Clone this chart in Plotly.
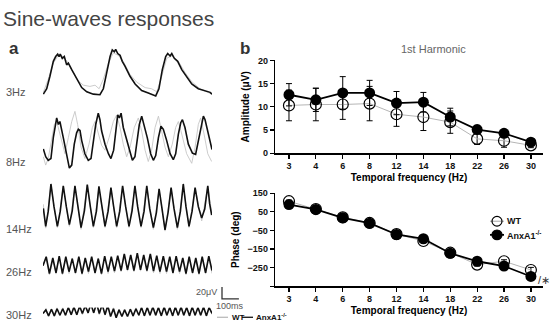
import plotly.graph_objects as go

W, H = 550, 331
FONT = "Liberation Sans, Arial, sans-serif"

# ---------------- Panel a: raw responses (time in ms, amplitude in uV) ----------------
t3_anx = [2,22,41,61,75,87,95,102,114,126,140,150,170,200,229,259,298,337,357,377,
          397,410,422,430,442,456,469,485,515,545,584,623,667,686,706,726,738,752,762,777,
          797,821,851,880,919,959,989,1000]
v3_anx = [5,14,35,60,68,72,68,72,65,68,54,57,46,30,16,9,5,4,14,41,
          68,79,76,80,73,70,60,52,35,22,11,7,2,14,46,68,73,69,73,65,
          60,46,33,22,14,11,8,5]
t3_wt = [2,31,61,91,120,150,179,209,239,278,308,332,357,387,416,446,475,515,555,604,
         643,673,703,732,762,801,841,880,929,969,999]
v3_wt = [8,30,57,70,68,57,41,27,20,18,20,14,30,57,74,70,60,38,25,16,
         14,9,35,65,69,60,41,26,14,9,5]

t8_anx = [2,16,31,47,61,71,81,91,100,120,140,156,170,185,199,209,219,229,248,268,
          284,298,312,327,337,347,367,387,402,418,430,442,452,462,475,495,515,529,544,558,
          570,584,598,617,637,653,667,683,698,712,732,752,771,785,801,815,825,840,860,884,
          903,919,935,949,959,975,988,1000]
v8_anx = [35,22,16,19,54,73,87,76,81,54,22,3,8,43,62,68,66,49,27,16,
          19,49,76,95,84,65,43,27,19,33,65,92,87,95,71,49,27,16,22,54,
          76,90,76,54,27,16,24,54,73,68,49,27,17,27,60,79,84,71,43,28,
          26,49,76,90,84,65,49,34]
t8_wt = [2,16,31,51,67,81,100,130,150,170,189,205,225,248,272,292,308,327,347,367,
         391,416,436,456,475,495,515,540,564,584,604,623,643,663,683,702,722,742,765,785,
         801,821,850,880,900,919,933,953,975,998]
v8_wt = [22,8,19,54,76,81,60,27,54,81,98,76,38,19,43,71,81,60,41,33,
         54,81,92,71,43,22,38,71,87,65,33,14,33,71,90,65,38,22,43,71,
         81,60,27,11,38,76,87,60,27,14]

t14_anx = [2,16,31,47,65,85,102,120,138,156,173,189,207,225,245,262,280,298,316,331,
           349,367,385,402,418,436,454,471,489,509,527,544,560,580,598,614,631,653,671,687,
           704,722,740,758,775,795,813,830,846,864,882,900,919,939,957,975,986,998]
v14_anx = [41,11,36,82,44,11,36,79,44,14,37,79,44,9,37,81,44,11,36,78,
           44,11,36,76,44,11,36,79,44,11,37,79,44,11,36,79,41,9,34,74,
           41,5,34,76,41,9,36,82,44,11,36,76,44,25,40,79,49,30]
t14_wt = [2,16,47,85,120,156,189,225,262,298,331,367,402,436,471,509,544,580,614,653,
          687,722,758,795,830,864,900,939,975,998]
v14_wt = [48,8,80,9,78,11,78,6,80,9,76,9,75,9,78,9,78,9,78,6,
          73,3,75,6,80,9,75,20,78,35]

t26 = [0,19,38,58,77,96,115,135,154,173,192,212,231,250,269,288,308,327,346,365,
       385,404,423,442,462,481,500,519,538,558,577,596,615,635,654,673,692,712,731,750,
       769,788,808,827,846,865,885,904,923,942,962,981,1000]
v26_anx = [23,38,10,36,11,39,10,38,13,35,11,38,10,36,13,38,11,35,10,39,
           13,38,14,40,15,43,16,41,15,44,16,41,15,43,14,40,13,39,13,38,
           11,39,13,36,10,38,11,36,10,38,11,39,15]
v26_wt = [25,36,8,35,9,38,8,36,10,36,9,36,8,35,10,36,9,36,8,38,
          10,36,11,39,13,41,14,40,13,43,14,40,13,41,11,39,10,38,10,36,
          9,38,10,35,8,36,9,35,8,36,9,38,10]

t30 = [0,17,33,50,67,83,100,117,133,150,167,183,200,217,233,250,267,283,300,317,
       333,350,367,383,400,417,433,450,467,483,500,517,533,550,567,583,600,617,633,650,
       667,683,700,717,733,750,767,783,800,817,833,850,867,883,900,917,933,950,967,983,1000]
v30_anx = [8,14,4,15,4,16,5,16,5,18,6,19,6,20,8,21,9,24,9,25,
           8,23,6,21,3,16,1,14,3,14,3,15,4,16,5,18,4,18,5,19,
           5,18,4,19,5,18,4,19,5,19,5,18,4,19,5,18,5,19,4,18,8]
v30_wt = [9,15,3,16,3,18,4,18,4,19,5,20,5,21,6,23,8,26,8,26,
          6,24,5,23,4,18,3,15,4,15,4,16,3,18,4,19,3,19,4,20,
          4,19,3,20,4,19,3,20,4,20,4,19,3,20,4,19,4,20,3,19,6]

row_labels = ["3Hz", "8Hz", "14Hz", "26Hz", "30Hz"]
SCALE_MS = 100
SCALE_UV = 20

# ---------------- Panel b: 1st harmonic ----------------
freq_labels = ["3", "4", "6", "8", "12", "14", "18", "22", "26", "30"]
amp_wt = [10.3, 10.5, 10.5, 10.7, 8.4, 7.8, 6.7, 3.1, 2.7, 1.7]
amp_wt_err = [3.3, 3.5, 3.2, 3.7, 2.6, 2.9, 2.4, 1.2, 1.4, 0.5]
amp_anx = [12.6, 11.5, 13.0, 13.0, 10.8, 11.0, 7.8, 5.1, 4.3, 2.4]
amp_anx_err = [2.4, 2.5, 3.5, 2.7, 2.5, 2.1, 1.9, 0.9, 0.5, 0.4]
phase_wt = [107, 65, 20, -10, -70, -107, -170, -234, -216, -263]
phase_wt_err = [6, 5, 5, 5, 6, 8, 6, 8, 8, 14]
phase_anx = [89, 63, 18, -11, -72, -95, -173, -216, -242, -298]
phase_anx_err = [6, 5, 5, 5, 6, 6, 6, 6, 6, 8]
amp_ticks = [0, 5, 10, 15, 20]
phase_ticks = [150, 50, -50, -150, -250, -350]
series_names = ["WT", "AnxA1<sup>-/-</sup>"]

# ---------------- layout helpers (pixel geometry) ----------------
def px(x):
    return x / W

def py(y):
    return 1 - y / H

UV_PER_PX = 1.625
X0, X1 = 43, 212
MS_PER_PX = 1000.0 / (X1 - X0)
# (top px, bottom px, baseline px, label y px)
rows = [(40, 100, 95, 90), (100, 175, 170, 162), (178, 240, 235, 231),
        (250, 286, 283, 275), (300, 326, 323, 320)]
row_series = [(t3_wt, v3_wt, t3_anx, v3_anx), (t8_wt, v8_wt, t8_anx, v8_anx),
              (t14_wt, v14_wt, t14_anx, v14_anx), (t26, v26_wt, t26, v26_anx),
              (t30, v30_wt, t30, v30_anx)]

GRAY = "#b5b5b5"
fig = go.Figure()
layout = dict(width=W, height=H, autosize=False, margin=dict(l=0, r=0, t=0, b=0, pad=0),
              paper_bgcolor="white", plot_bgcolor="white", showlegend=False,
              font=dict(family=FONT, color="black"))
hidden = dict(visible=False, showgrid=False, zeroline=False, fixedrange=True)
layout["xaxis"] = dict(hidden, domain=[px(X0), px(X1)], range=[0, 1000], anchor="y")
for i, ((top, bot, base, ly), (tw, vw, ta, va)) in enumerate(zip(rows, row_series)):
    yname = "y" if i == 0 else f"y{i+1}"
    key = "yaxis" if i == 0 else f"yaxis{i+1}"
    layout[key] = dict(hidden, domain=[py(bot), py(top)],
                       range=[(base - bot) * UV_PER_PX, (base - top) * UV_PER_PX], anchor="x")
    fig.add_trace(go.Scatter(x=tw, y=vw, mode="lines", xaxis="x", yaxis=yname,
                             line=dict(color="#c6c6c6", width=0.9), hoverinfo="skip"))
    fig.add_trace(go.Scatter(x=ta, y=va, mode="lines", xaxis="x", yaxis=yname,
                             line=dict(color="#111111", width=1.6), hoverinfo="skip"))

# scale bar axis
SB_X, SB_Y = 222, 303
layout["xaxis4"] = dict(hidden, domain=[px(X0), px(270)], range=[0, (270 - X0) * MS_PER_PX], anchor="y8")
layout["yaxis8"] = dict(hidden, domain=[py(312), py(284)],
                        range=[(SB_Y - 312) * UV_PER_PX, (SB_Y - 284) * UV_PER_PX], anchor="x4")
sb_t0 = (SB_X - X0) * MS_PER_PX
fig.add_trace(go.Scatter(x=[sb_t0, sb_t0, sb_t0 + SCALE_MS], y=[SCALE_UV, 0, 0], mode="lines",
                         xaxis="x4", yaxis="y8", line=dict(color="#333", width=1.3), hoverinfo="skip"))

# ---------------- Panel b axes ----------------
axis_style = dict(showline=True, linecolor="black", linewidth=1.3, ticks="outside", ticklen=4,
                  tickcolor="black", tickwidth=1.2, showgrid=False, zeroline=False, fixedrange=True,
                  tickfont=dict(family=FONT, size=9, color="#111", weight="bold"))
xcat = dict(axis_style, type="category", range=[-0.52, 9.45], domain=[px(275), px(543)],
            title=dict(text="Temporal frequency (Hz)", font=dict(family=FONT, size=10, weight="bold"), standoff=3))
layout["xaxis2"] = dict(xcat, anchor="y6")
layout["xaxis3"] = dict(xcat, anchor="y7")
layout["yaxis6"] = dict(axis_style, domain=[py(153), py(57)], range=[-0.02, 20.02], tickvals=amp_ticks,
                        anchor="x2", title=dict(text="Amplitude (μV)", font=dict(family=FONT, size=10, weight="bold"), standoff=6))
layout["yaxis7"] = dict(axis_style, domain=[py(290), py(194)], range=[-350.5, 150.5],
                        tickvals=phase_ticks, anchor="x3",
                        title=dict(text="Phase (deg)", font=dict(family=FONT, size=10, weight="bold"), standoff=6))

wt_marker = dict(symbol="circle-open", size=11, color="black", line=dict(width=1.2, color="black"))
anx_marker = dict(symbol="circle", size=11, color="black")
err = lambda a: dict(type="data", array=a, color="black", thickness=1, width=3)

fig.add_trace(go.Scatter(x=freq_labels, y=amp_wt, mode="lines+markers", xaxis="x2", yaxis="y6",
                         line=dict(color=GRAY, width=1), marker=wt_marker, error_y=err(amp_wt_err)))
fig.add_trace(go.Scatter(x=freq_labels, y=amp_anx, mode="lines+markers", xaxis="x2", yaxis="y6",
                         line=dict(color="black", width=1.8), marker=anx_marker, error_y=err(amp_anx_err)))
fig.add_trace(go.Scatter(x=freq_labels, y=phase_wt, mode="lines+markers", xaxis="x3", yaxis="y7",
                         line=dict(color=GRAY, width=1), marker=wt_marker, error_y=err(phase_wt_err)))
fig.add_trace(go.Scatter(x=freq_labels, y=phase_anx, mode="lines+markers", xaxis="x3", yaxis="y7",
                         line=dict(color="black", width=1.8), marker=anx_marker, error_y=err(phase_anx_err)))

# ---------------- text ----------------
ann = []
def text(x, y, s, size, color="#333", xanchor="left", weight="normal"):
    ann.append(dict(x=px(x), y=py(y), xref="paper", yref="paper", text=s, showarrow=False,
                    xanchor=xanchor, yanchor="middle", font=dict(family=FONT, size=size, color=color, weight=weight)))

text(1, 14, "Sine-waves responses", 21, "#444")
text(7, 45, "a", 17, "#333", weight="bold")
text(238, 45, "b", 17, "#333", weight="bold")
for (top, bot, base, ly), lab in zip(rows, row_labels):
    text(4, ly, lab, 11, "#555")
text(219, 296, "20μV", 9, "#555", xanchor="right")
text(230, 310, "100ms", 9, "#555", xanchor="center")
text(433, 45, "1st Harmonic", 11, "#666", xanchor="center")
text(536, 284, "/∗", 11, "#333")
# bottom-left legend
text(230, 322, series_names[0], 8, "#111", weight="bold")
text(254, 322, series_names[1], 8, "#111", weight="bold")
# phase-plot legend
text(505, 223, series_names[0], 9, "#111", weight="bold")
text(505, 237, series_names[1], 9, "#111", weight="bold")
layout["annotations"] = ann

def hline(x0, x1, y, color, width):
    return dict(type="line", xref="paper", yref="paper", x0=px(x0), x1=px(x1), y0=py(y), y1=py(y),
                line=dict(color=color, width=width))

def circle(cx, cy, r, fill):
    return dict(type="circle", xref="paper", yref="paper", x0=px(cx - r), x1=px(cx + r),
                y0=py(cy + r), y1=py(cy - r), fillcolor=fill, line=dict(color="black", width=1.2),
                layer="above")

layout["shapes"] = [
    hline(217, 228, 322, GRAY, 1.2),
    hline(242, 253, 322, "#111", 1.3),
    hline(490, 504, 223, GRAY, 1.2),
    circle(497, 223, 5, "rgba(0,0,0,0)"),
    hline(490, 504, 237, "black", 1.8),
    circle(497, 237, 5, "black"),
]

fig.update_layout(**layout)
fig.write_html("out.html", config={"displayModeBar": False, "staticPlot": True},
               post_script="document.body.style.margin='0';document.body.style.padding='0';"
                           "document.body.style.overflow='hidden';")
